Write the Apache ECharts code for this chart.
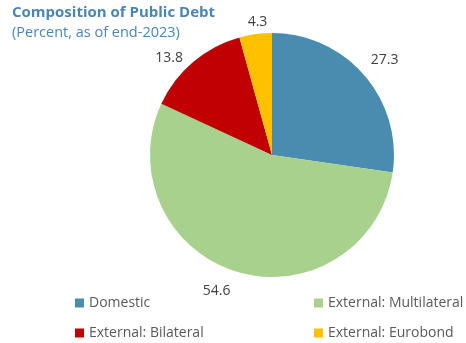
<!DOCTYPE html>
<html>
<head>
<meta charset="utf-8">
<script src="https://cdn.jsdelivr.net/npm/echarts@6/dist/echarts.min.js"></script>
<style>
  html, body { margin: 0; padding: 0; background: #fff; }
  #chart { width: 466px; height: 343px; }
</style>
</head>
<body>
<div id="chart"></div>
<script>
// Composition of public debt, percent of total at end-2023
const categories = ['Domestic', 'External: Multilateral', 'External: Bilateral', 'External: Eurobond'];
const shares = [27.3, 54.6, 13.8, 4.3];
const colors = ['#4A8CB0', '#A9D18E', '#C00000', '#FFC000'];

// Small nudges (px) applied to each value label after it is placed at its slice's mid-angle
const labelNudge = [[3, 0], [-14, -3], [-9, 14], [5, 11]];

const FONT = '"Open Sans", "Noto Sans", sans-serif';
const PIE_CENTER = [272, 155];
const PIE_RADIUS = 122;
const LABEL_RADIUS = 145;

// Mid-angle of each slice, clockwise from 12 o'clock (degrees)
const total = shares.reduce((a, b) => a + b, 0);
const midAngles = [];
shares.reduce((acc, v) => {
  midAngles.push((acc + v / 2) / total * 360);
  return acc + v;
}, 0);

const legendBase = {
  orient: 'vertical',
  top: 296,
  height: 60,
  padding: 0,
  itemGap: 16,
  itemWidth: 9,
  itemHeight: 9,
  icon: 'rect'
};

const chart = echarts.init(document.getElementById('chart'));
chart.setOption({
  animation: false,
  title: {
    text: 'Composition of Public Debt',
    subtext: '(Percent, as of end-2023)',
    left: 12,
    top: 5,
    padding: 0,
    itemGap: 5,
    textStyle: { fontFamily: FONT, fontSize: 15, fontWeight: 'bold', color: '#4A86B4' },
    subtextStyle: { fontFamily: FONT, fontSize: 14.5, color: '#4A86B4' }
  },
  legend: [
    Object.assign({}, legendBase, {
      data: [categories[0], categories[2]],
      left: 75,
      textStyle: { fontFamily: FONT, fontSize: 14, color: '#595959' }
    }),
    Object.assign({}, legendBase, {
      data: [categories[1], categories[3]],
      left: 314,
      textStyle: { fontFamily: FONT, fontSize: 14, color: '#595959' }
    })
  ],
  series: [{
    type: 'pie',
    center: PIE_CENTER,
    radius: PIE_RADIUS,
    startAngle: 90,
    clockwise: true,
    color: colors,
    itemStyle: { borderWidth: 0 },
    emphasis: { disabled: true },
    label: {
      show: true,
      position: 'outside',
      formatter: p => p.value.toFixed(1),
      fontFamily: FONT,
      fontSize: 14,
      color: '#404040'
    },
    labelLine: { show: false },
    labelLayout: p => {
      const i = p.dataIndex;
      const a = midAngles[i] * Math.PI / 180;
      return {
        x: PIE_CENTER[0] + LABEL_RADIUS * Math.sin(a) + labelNudge[i][0],
        y: PIE_CENTER[1] - LABEL_RADIUS * Math.cos(a) + labelNudge[i][1],
        align: 'center',
        verticalAlign: 'middle'
      };
    },
    data: categories.map((name, i) => ({ name, value: shares[i] }))
  }]
});
</script>
</body>
</html>
